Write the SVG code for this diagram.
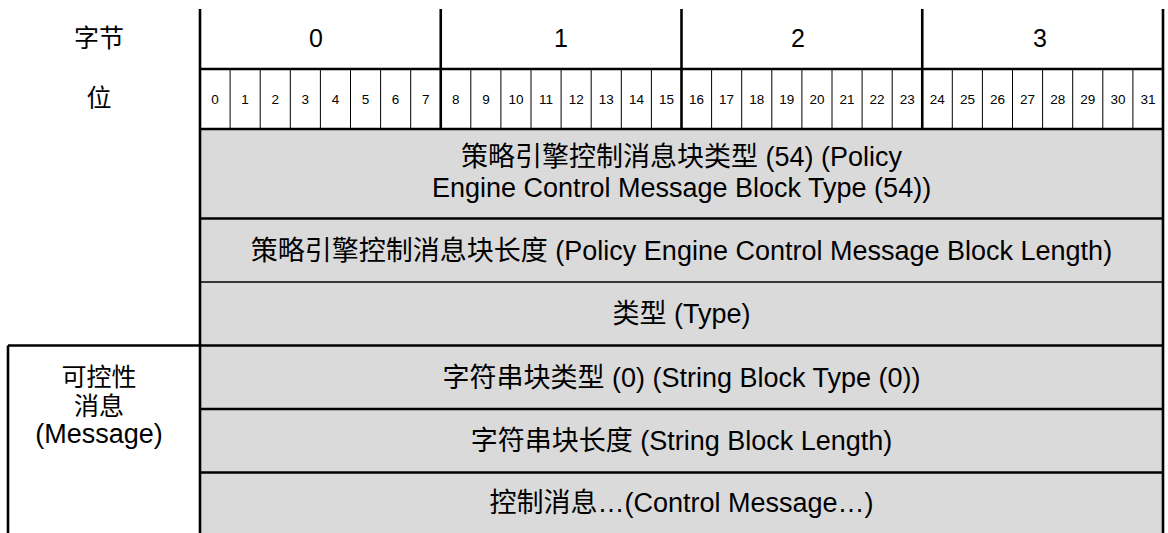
<svg xmlns="http://www.w3.org/2000/svg" width="1168" height="533" viewBox="0 0 1168 533">
  <style>
    .t { font-family: "Liberation Sans", "Noto Sans CJK SC", sans-serif; fill: #000; text-anchor: middle; }
    .row { font-size: 27px; }
    .side { font-size: 25px; }
    .sideL { font-size: 27px; }
    .byte { font-size: 25px; }
    .bit { font-size: 13.5px; }
    .thick { stroke: #000; stroke-width: 2.6; fill: none; }
    .mid { stroke: #000; stroke-width: 1.6; fill: none; }
    .thin { stroke: #000; stroke-width: 1; fill: none; }
    .cell { fill: #dadada; stroke: none; }
  </style>

  <!-- gray field rows -->
  <g id="rows-fill">
    <rect class="cell" x="200" y="129" width="963" height="404"/>
  </g>

  <!-- grid lines (no connectors in this diagram) -->
  <g id="connectors">
    <line class="thick" x1="200" y1="9" x2="200" y2="533"/>
    <line class="thick" x1="1163" y1="9" x2="1163" y2="533"/>
    <line class="thick" x1="440.75" y1="9" x2="440.75" y2="129"/>
    <line class="thick" x1="681.5" y1="9" x2="681.5" y2="129"/>
    <line class="thick" x1="922.25" y1="9" x2="922.25" y2="129"/>
    <line class="thick" x1="200" y1="69" x2="1163" y2="69"/>
    <line class="thick" x1="200" y1="129" x2="1163" y2="129"/>
    <g class="thin">
      <line x1="230.1" y1="69" x2="230.1" y2="129"/>
      <line x1="260.2" y1="69" x2="260.2" y2="129"/>
      <line x1="290.3" y1="69" x2="290.3" y2="129"/>
      <line x1="320.4" y1="69" x2="320.4" y2="129"/>
      <line x1="350.5" y1="69" x2="350.5" y2="129"/>
      <line x1="380.6" y1="69" x2="380.6" y2="129"/>
      <line x1="410.7" y1="69" x2="410.7" y2="129"/>
      <line x1="470.8" y1="69" x2="470.8" y2="129"/>
      <line x1="500.9" y1="69" x2="500.9" y2="129"/>
      <line x1="531.0" y1="69" x2="531.0" y2="129"/>
      <line x1="561.1" y1="69" x2="561.1" y2="129"/>
      <line x1="591.2" y1="69" x2="591.2" y2="129"/>
      <line x1="621.3" y1="69" x2="621.3" y2="129"/>
      <line x1="651.4" y1="69" x2="651.4" y2="129"/>
      <line x1="711.6" y1="69" x2="711.6" y2="129"/>
      <line x1="741.7" y1="69" x2="741.7" y2="129"/>
      <line x1="771.8" y1="69" x2="771.8" y2="129"/>
      <line x1="801.9" y1="69" x2="801.9" y2="129"/>
      <line x1="832.0" y1="69" x2="832.0" y2="129"/>
      <line x1="862.1" y1="69" x2="862.1" y2="129"/>
      <line x1="892.2" y1="69" x2="892.2" y2="129"/>
      <line x1="952.3" y1="69" x2="952.3" y2="129"/>
      <line x1="982.4" y1="69" x2="982.4" y2="129"/>
      <line x1="1012.5" y1="69" x2="1012.5" y2="129"/>
      <line x1="1042.6" y1="69" x2="1042.6" y2="129"/>
      <line x1="1072.7" y1="69" x2="1072.7" y2="129"/>
      <line x1="1102.8" y1="69" x2="1102.8" y2="129"/>
      <line x1="1132.9" y1="69" x2="1132.9" y2="129"/>
    </g>
    <line class="thick" x1="200" y1="218.5" x2="1163" y2="218.5"/>
    <line class="mid" x1="200" y1="282" x2="1163" y2="282"/>
    <line class="thick" x1="8" y1="345.5" x2="1163" y2="345.5"/>
    <line class="thick" x1="200" y1="409" x2="1163" y2="409"/>
    <line class="thick" x1="200" y1="472.5" x2="1163" y2="472.5"/>
    <line class="thick" x1="8" y1="345.5" x2="8" y2="533"/>
  </g>

  <!-- left header labels -->
  <g id="label-byte"><text class="t side" x="99" y="47">字节</text></g>
  <g id="label-bit"><text class="t side" x="99" y="107">位</text></g>
  <g id="label-message">
    <text class="t side" x="99" y="386">可控性</text>
    <text class="t side" x="99" y="415">消息</text>
    <text class="t sideL" x="99" y="443">(Message)</text>
  </g>

  <!-- byte numbers -->
  <g id="bytes">
    <text class="t byte" x="316" y="47">0</text>
    <text class="t byte" x="561" y="47">1</text>
    <text class="t byte" x="798" y="47">2</text>
    <text class="t byte" x="1040" y="47">3</text>
  </g>

  <!-- bit numbers -->
  <g id="bits">
    <text class="t bit" x="215.0" y="104">0</text>
    <text class="t bit" x="245.1" y="104">1</text>
    <text class="t bit" x="275.2" y="104">2</text>
    <text class="t bit" x="305.3" y="104">3</text>
    <text class="t bit" x="335.4" y="104">4</text>
    <text class="t bit" x="365.5" y="104">5</text>
    <text class="t bit" x="395.6" y="104">6</text>
    <text class="t bit" x="425.7" y="104">7</text>
    <text class="t bit" x="455.8" y="104">8</text>
    <text class="t bit" x="485.9" y="104">9</text>
    <text class="t bit" x="516.0" y="104">10</text>
    <text class="t bit" x="546.1" y="104">11</text>
    <text class="t bit" x="576.2" y="104">12</text>
    <text class="t bit" x="606.3" y="104">13</text>
    <text class="t bit" x="636.4" y="104">14</text>
    <text class="t bit" x="666.5" y="104">15</text>
    <text class="t bit" x="696.5" y="104">16</text>
    <text class="t bit" x="726.6" y="104">17</text>
    <text class="t bit" x="756.7" y="104">18</text>
    <text class="t bit" x="786.8" y="104">19</text>
    <text class="t bit" x="816.9" y="104">20</text>
    <text class="t bit" x="847.0" y="104">21</text>
    <text class="t bit" x="877.1" y="104">22</text>
    <text class="t bit" x="907.2" y="104">23</text>
    <text class="t bit" x="937.3" y="104">24</text>
    <text class="t bit" x="967.4" y="104">25</text>
    <text class="t bit" x="997.5" y="104">26</text>
    <text class="t bit" x="1027.6" y="104">27</text>
    <text class="t bit" x="1057.7" y="104">28</text>
    <text class="t bit" x="1087.8" y="104">29</text>
    <text class="t bit" x="1117.9" y="104">30</text>
    <text class="t bit" x="1148.0" y="104">31</text>
  </g>

  <!-- field rows -->
  <g id="field-pe-type">
    <text class="t row" x="681.5" y="166">策略引擎控制消息块类型 (54) (Policy</text>
    <text class="t row" x="681.5" y="197">Engine Control Message Block Type (54))</text>
  </g>
  <g id="field-pe-length">
    <text class="t row" x="681.5" y="260">策略引擎控制消息块长度 (Policy Engine Control Message Block Length)</text>
  </g>
  <g id="field-type">
    <text class="t row" x="681.5" y="323">类型 (Type)</text>
  </g>
  <g id="field-string-type">
    <text class="t row" x="681.5" y="387">字符串块类型 (0) (String Block Type (0))</text>
  </g>
  <g id="field-string-length">
    <text class="t row" x="681.5" y="450">字符串块长度 (String Block Length)</text>
  </g>
  <g id="field-control-message">
    <text class="t row" x="681.5" y="512">控制消息…(Control Message…)</text>
  </g>
</svg>
